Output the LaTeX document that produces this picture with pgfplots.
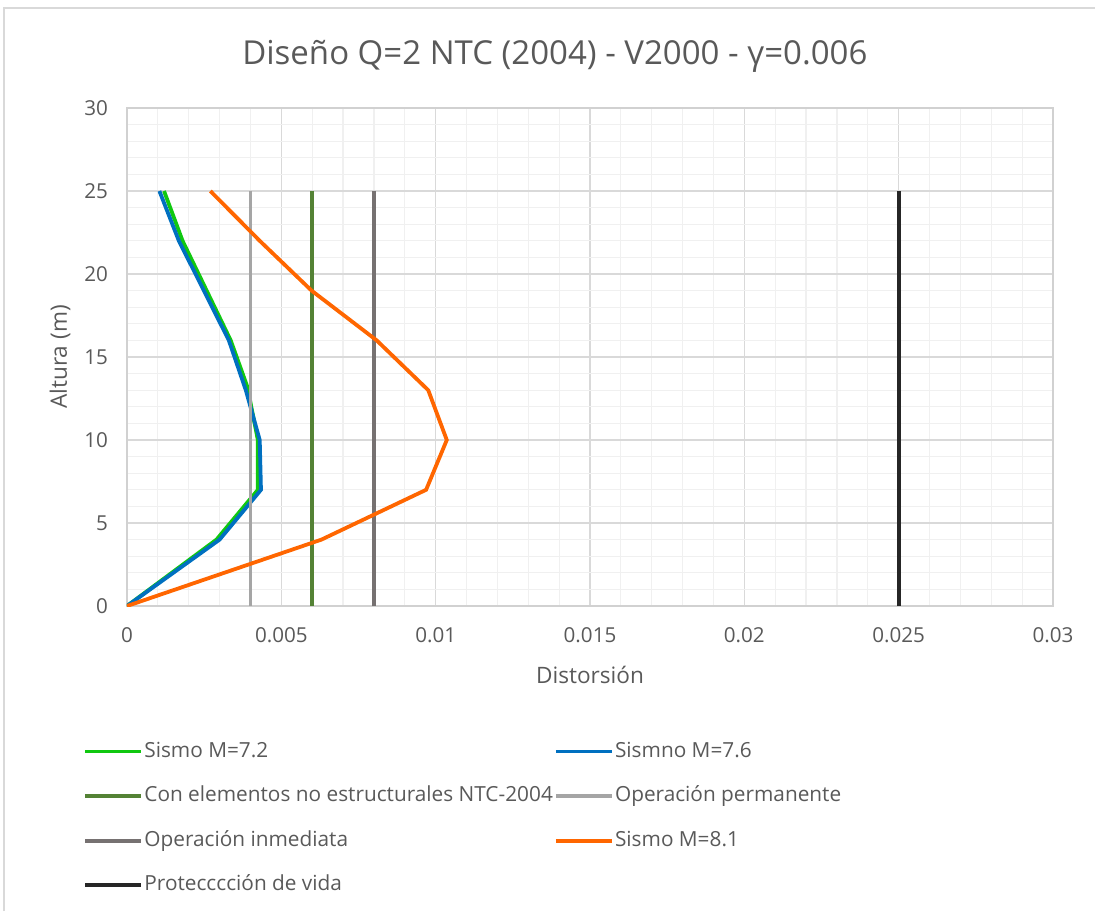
\documentclass[border=0pt]{standalone}
\usepackage{fontspec}
\setmainfont{Open Sans}
\usepackage{pgfplots}
\pgfplotsset{compat=1.18}
\definecolor{cg72}{HTML}{10C810}
\definecolor{cb76}{HTML}{0070C0}
\definecolor{cdg}{HTML}{548235}
\definecolor{clg}{HTML}{A5A5A5}
\definecolor{cgr}{HTML}{767171}
\definecolor{cor}{HTML}{FF6600}
\definecolor{cbk}{HTML}{262626}
\definecolor{txt}{HTML}{595959}
\begin{document}
\begin{tikzpicture}
\useasboundingbox (-63.5pt,-152.5pt) rectangle (484pt,303pt);
\draw[draw=black!15,line width=0.8pt] (-61.5pt,-152.5pt) -- (-61.5pt,299pt) -- (484pt,299pt);
\begin{axis}[
  at={(0pt,0pt)}, anchor=south west,
  scale only axis, width=463pt, height=249pt,
  xmin=0, xmax=0.03, ymin=0, ymax=30,
  scaled x ticks=false,
  xtick={0,0.005,0.01,0.015,0.02,0.025,0.03},
  xticklabels={0,0.005,0.01,0.015,0.02,0.025,0.03},
  ytick={0,5,10,15,20,25,30},
  minor x tick num=4, minor y tick num=4,
  grid=both,
  major grid style={draw=black!15, line width=0.6pt},
  minor grid style={draw=black!6, line width=0.6pt},
  axis line style={draw=black!18, line width=0.8pt},
  major tick length=0pt, minor tick length=0pt,
  tick label style={font=\fontsize{10.3}{12}\selectfont, text=txt},
  /pgf/number format/assume math mode=true,
  xticklabel style={yshift=-7pt},
  yticklabel style={xshift=-6pt},
  title={Diseño Q=2 NTC (2004) - V2000 - γ=0.006},
  title style={at={([yshift=20pt]axis description cs:0.462,1)}, anchor=center, font=\fontsize{16.5}{19}\selectfont, text=txt},
  xlabel={Distorsión},
  ylabel={Altura (m)},
  every axis x label/.style={at={([yshift=-34.5pt]axis description cs:0.5,0)}, anchor=center, font=\fontsize{11.3}{13}\selectfont, text=txt},
  every axis y label/.style={at={([xshift=-33.5pt]axis description cs:0,0.5)}, anchor=center, rotate=90, font=\fontsize{11.3}{13}\selectfont, text=txt},
  legend columns=2,
  legend cell align=left,
  legend image code/.code={\draw[#1] (0pt,0pt) -- (28pt,0pt);},
  legend style={at={(axis description cs:-0.054,-0.26)}, anchor=north west, draw=none, fill=none,
    font=\fontsize{10.4}{12}\selectfont, text=txt,
    nodes={inner sep=0.6pt, text height=8pt, text depth=2.5pt},
    row sep=10.6pt, column sep=0pt},
  every axis plot/.append style={line width=1.9pt},
]
\addplot[cg72] coordinates {(0,0) (0.0029,4) (0.00424,7) (0.00424,10) (0.0039,13.2) (0.00336,16) (0.0018,22) (0.0012,25)};
\addlegendentry{Sismo M=7.2}
\addplot[cb76] coordinates {(0,0) (0.0030,4) (0.00434,7) (0.0043,10) (0.00385,13) (0.0033,16) (0.00168,22) (0.00105,25)};
\addlegendentry{Sismno M=7.6}
\addplot[cdg] coordinates {(0.006,0) (0.006,25)};
\addlegendentry{Con elementos no estructurales NTC-2004}
\addplot[clg] coordinates {(0.004,0) (0.004,25)};
\addlegendentry{Operación permanente}
\addplot[cgr] coordinates {(0.008,0) (0.008,25)};
\addlegendentry{Operación inmediata}
\addplot[cor] coordinates {(0,0) (0.0063,4) (0.00969,7) (0.01036,10) (0.00976,13) (0.00809,16) (0.00598,19) (0.0043,22) (0.0027,25)};
\addlegendentry{Sismo M=8.1}
\addplot[cbk] coordinates {(0.025,0) (0.025,25)};
\addlegendentry{Protecccción de vida}
\end{axis}
\end{tikzpicture}
\end{document}
